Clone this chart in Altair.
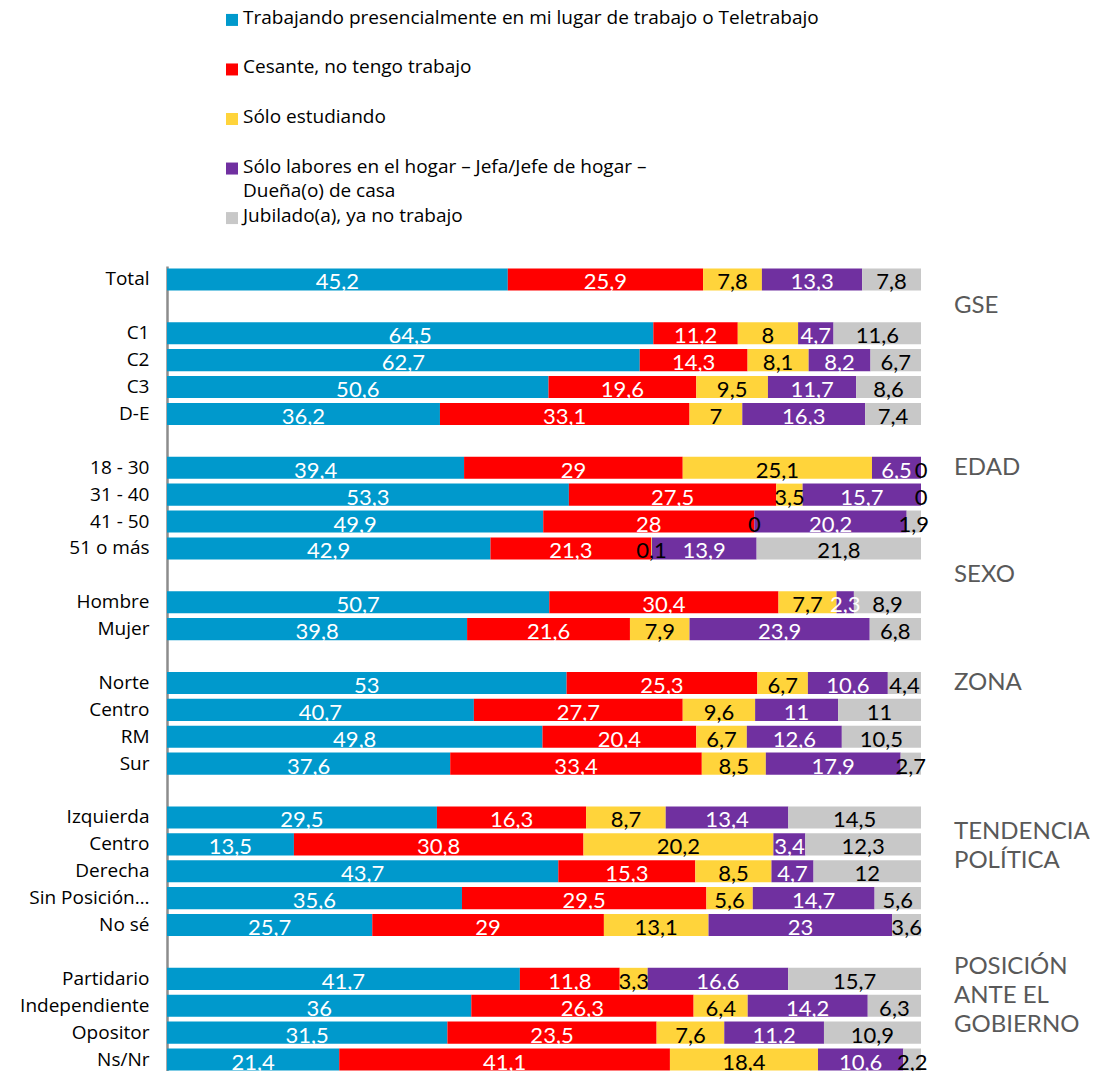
import altair as alt
import pandas as pd

# ---- Data -------------------------------------------------------------
series = [
    "Trabajando presencialmente en mi lugar de trabajo o Teletrabajo",
    "Cesante, no tengo trabajo",
    "Sólo estudiando",
    "Sólo labores en el hogar – Jefa/Jefe de hogar – Dueña(o) de casa",
    "Jubilado(a), ya no trabajo",
]
legend_labels = [
    "Trabajando presencialmente en mi lugar de trabajo o Teletrabajo",
    "Cesante, no tengo trabajo",
    "Sólo estudiando",
    "Sólo labores en el hogar – Jefa/Jefe de hogar –\nDueña(o) de casa",
    "Jubilado(a), ya no trabajo",
]
colors = ["#0099CC", "#FF0000", "#FFD43B", "#7030A0", "#C8C8C8"]
text_colors = ["white", "white", "black", "white", "black"]

# full row order (blank spacer rows start with "_b")
rows = ["Total", "_b1", "C1", "C2", "C3", "D-E", "_b2",
        "18 - 30", "31 - 40", "41 - 50", "51 o más", "_b3",
        "Hombre", "Mujer", "_b4",
        "Norte", "Centro", "RM", "Sur", "_b5",
        "Izquierda", "Centro\u200b", "Derecha", "Sin Posición…", "No sé", "_b6",
        "Partidario", "Independiente", "Opositor", "Ns/Nr"]

categories = ["Total", "C1", "C2", "C3", "D-E",
              "18 - 30", "31 - 40", "41 - 50", "51 o más",
              "Hombre", "Mujer",
              "Norte", "Centro", "RM", "Sur",
              "Izquierda", "Centro\u200b", "Derecha", "Sin Posición…", "No sé",
              "Partidario", "Independiente", "Opositor", "Ns/Nr"]
trabajando = [45.2, 64.5, 62.7, 50.6, 36.2, 39.4, 53.3, 49.9, 42.9, 50.7, 39.8,
              53, 40.7, 49.8, 37.6, 29.5, 13.5, 43.7, 35.6, 25.7, 41.7, 36, 31.5, 21.4]
cesante = [25.9, 11.2, 14.3, 19.6, 33.1, 29, 27.5, 28, 21.3, 30.4, 21.6,
           25.3, 27.7, 20.4, 33.4, 16.3, 30.8, 15.3, 29.5, 29, 11.8, 26.3, 23.5, 41.1]
estudiando = [7.8, 8, 8.1, 9.5, 7, 25.1, 3.5, 0, 0.1, 7.7, 7.9,
              6.7, 9.6, 6.7, 8.5, 8.7, 20.2, 8.5, 5.6, 13.1, 3.3, 6.4, 7.6, 18.4]
hogar = [13.3, 4.7, 8.2, 11.7, 16.3, 6.5, 15.7, 20.2, 13.9, 2.3, 23.9,
         10.6, 11, 12.6, 17.9, 13.4, 3.4, 4.7, 14.7, 23, 16.6, 14.2, 11.2, 10.6]
jubilado = [7.8, 11.6, 6.7, 8.6, 7.4, 0, 0, 1.9, 21.8, 8.9, 6.8,
            4.4, 11, 10.5, 2.7, 14.5, 12.3, 12, 5.6, 3.6, 15.7, 6.3, 10.9, 2.2]

# group titles on the right (single-line and multi-line ones)
single_titles = ["GSE", "EDAD", "SEXO", "ZONA"]
single_anchor = ["_b1", "18 - 30", "_b3", "Norte"]
multi_titles = ["TENDENCIA\nPOLÍTICA", "POSICIÓN\nANTE EL\nGOBIERNO"]
multi_anchor = ["Centro\u200b", "Partidario"]

# ---- Build long table ---------------------------------------------------
values_by_series = [trabajando, cesante, estudiando, hogar, jubilado]
records = []
for si, vals in enumerate(values_by_series):
    for cat, v in zip(categories, vals):
        records.append({"row": cat, "serie": series[si], "order": si,
                        "value": v, "tc": text_colors[si]})
df = pd.DataFrame(records)
single_df = pd.DataFrame({"row": single_anchor, "t": single_titles})
multi_df = pd.DataFrame({"row": multi_anchor, "t": multi_titles})
leg_df = pd.DataFrame({"serie": series, "label": legend_labels})

color_scale = alt.Scale(domain=series, range=colors)

y_axis = alt.Axis(
    title=None, labelFont="Open Sans", labelFontSize=19, labelColor="black",
    ticks=False, tickSize=0, domainColor="#8c8c8c", domainWidth=2.5,
    labelPadding=18, labelLimit=300, minExtent=159, maxExtent=159,
    labelExpr="indexof(datum.value, '_b') == 0 ? '' : datum.value",
)
y_scale = alt.Scale(domain=rows, paddingInner=0.18, paddingOuter=0.09)
x_scale = alt.Scale(domain=[0, 1], nice=False)
Y = alt.Y("row:N", scale=y_scale, axis=y_axis, title=None)

base = alt.Chart(df).transform_stack(
    stack="value", groupby=["row"], as_=["v0", "v1"], offset="normalize",
    sort=[alt.SortField("order", order="ascending")],
)

bars = base.mark_bar().encode(
    y=Y,
    x=alt.X("v0:Q", axis=None, scale=x_scale),
    x2="v1:Q",
    color=alt.Color("serie:N", scale=color_scale, legend=None),
)

labels = base.transform_calculate(
    mid="(datum.v0 + datum.v1) / 2",
    lab="replace(toString(datum.value), '.', ',')",
).mark_text(font="Lato", fontSize=22, dy=3).encode(
    y=Y,
    x=alt.X("mid:Q", axis=None, scale=x_scale),
    text="lab:N",
    color=alt.Color("tc:N", scale=None),
)

title_style = dict(align="left", baseline="middle", font="Lato", fontSize=24,
                   color="#595959", lineBreak="\n", lineHeight=29)
titles1 = alt.Chart(single_df).mark_text(**title_style).encode(
    y=Y, x=alt.value(787), text="t:N")
titles2 = alt.Chart(multi_df).mark_text(dy=-12, **title_style).encode(
    y=Y, x=alt.value(787), text="t:N")

bar_chart = alt.layer(bars, labels, titles1, titles2).properties(width=754, height=807)

# ---- Legend panel -------------------------------------------------------
leg_base = alt.Chart(leg_df).encode(
    y=alt.Y("serie:N", scale=alt.Scale(type="point", domain=series, padding=0.16), axis=None),
)
leg_sq = leg_base.mark_square(size=144, opacity=1).encode(
    x=alt.value(65),
    color=alt.Color("serie:N", scale=color_scale, legend=None),
)
leg_txt = leg_base.mark_text(
    align="left", baseline="top", dy=-11, font="Open Sans", fontSize=19,
    lineBreak="\n", lineHeight=24, color="black",
).encode(x=alt.value(76), text="label:N")

legend_chart = alt.layer(leg_sq, leg_txt).properties(width=754, height=214)

chart = alt.vconcat(legend_chart, bar_chart, spacing=39).resolve_scale(
    y="independent", x="independent"
).properties(padding=0).configure_view(stroke=None)

chart.save("out.html", embed_options={"renderer": "svg", "actions": False})
